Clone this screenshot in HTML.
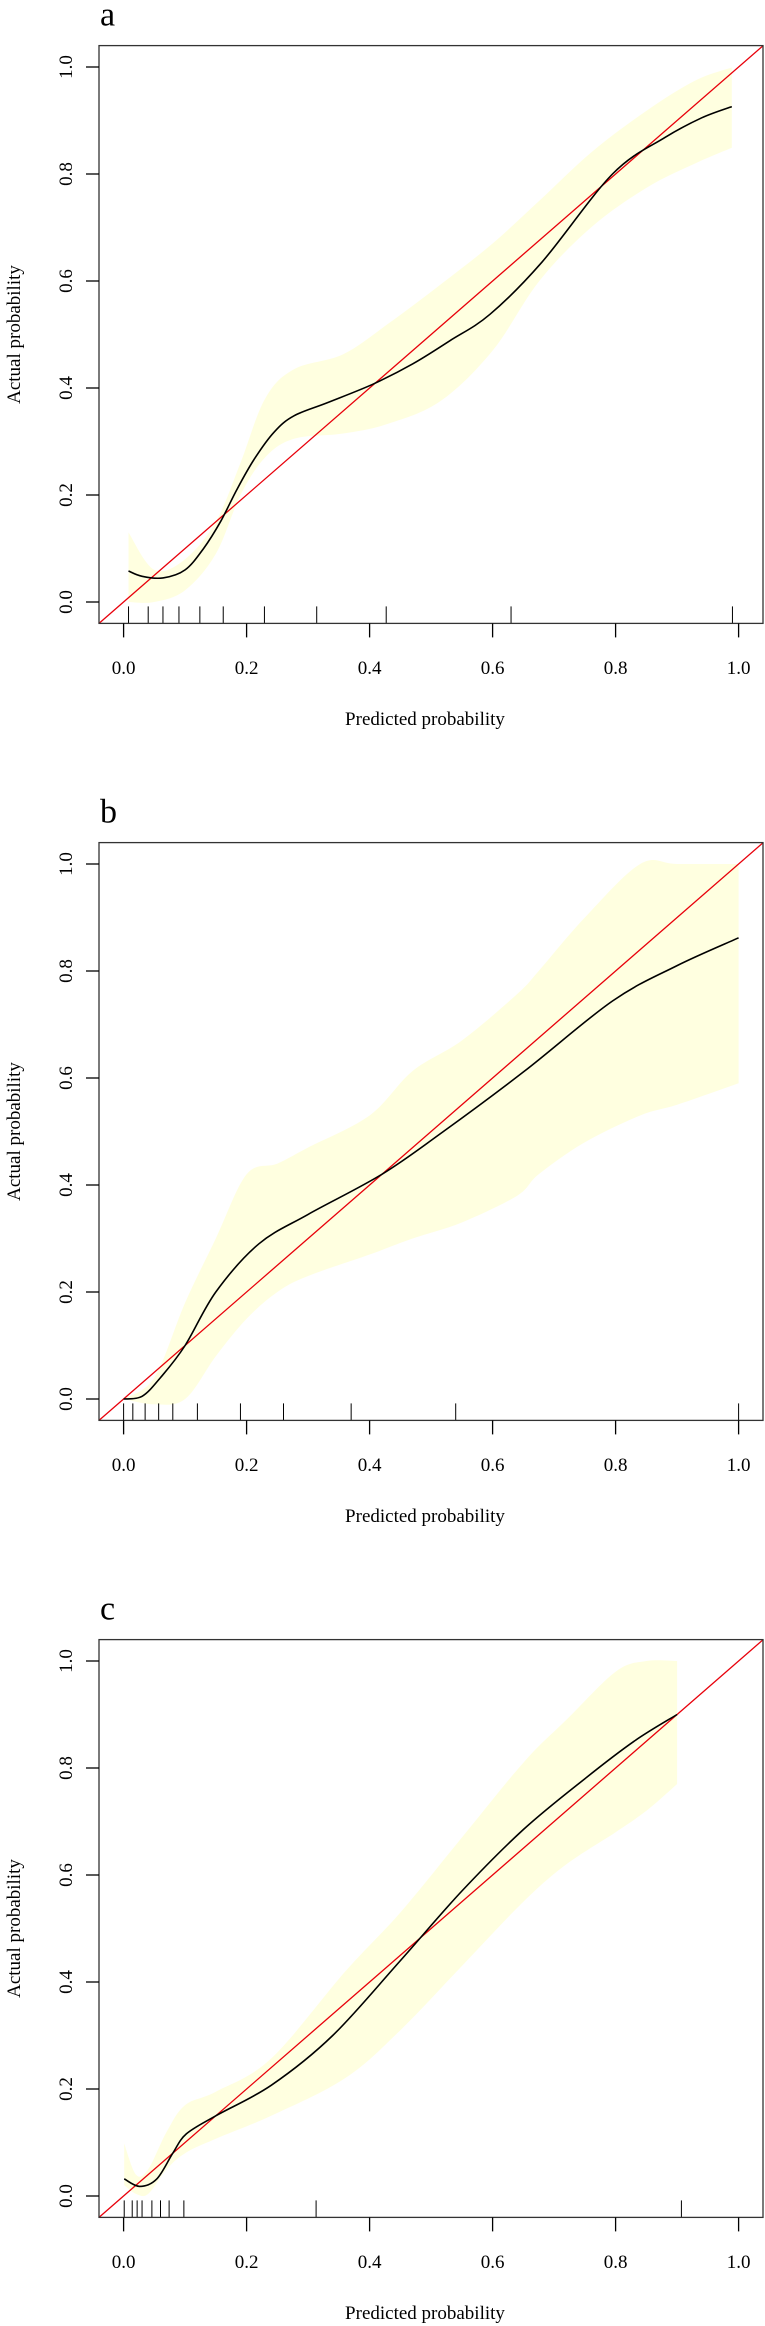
<!DOCTYPE html>
<html><head><meta charset="utf-8"><style>
body{margin:0;background:#fff}
svg{display:block}
text{font-family:"Liberation Serif",serif;fill:#000}
</style></head><body>
<svg id="chart" width="765" height="2326" viewBox="0 0 765 2326" xmlns="http://www.w3.org/2000/svg"></svg>
<script>
const panelLabels = ["a","b","c"];
const curveA_x = [0.008,0.03,0.064,0.1,0.13,0.158,0.185,0.213,0.245,0.277,0.33,0.405,0.47,0.53,0.596,0.68,0.795,0.88,0.94,0.989];
const curveA_y = [0.058,0.048,0.045,0.06,0.1,0.151,0.212,0.268,0.318,0.348,0.372,0.407,0.445,0.488,0.538,0.635,0.8,0.868,0.905,0.926];
const bandA_x = [0.008,0.05,0.1,0.15,0.19,0.23,0.277,0.357,0.43,0.516,0.6,0.676,0.76,0.85,0.93,0.989];
const bandA_up = [0.13,0.06,0.08,0.15,0.26,0.38,0.435,0.463,0.52,0.594,0.67,0.75,0.84,0.918,0.975,0.999];
const bandA_lo = [0.0,0.0,0.022,0.09,0.2,0.27,0.305,0.315,0.333,0.376,0.47,0.6,0.7,0.774,0.82,0.849];
const rugA = [0.008,0.04,0.064,0.09,0.124,0.162,0.229,0.314,0.427,0.63,0.99];

const curveB_x = [0.0,0.03,0.06,0.1,0.15,0.22,0.3,0.42,0.52,0.652,0.795,0.9,1.0];
const curveB_y = [0.0,0.005,0.04,0.1,0.2,0.29,0.345,0.42,0.5,0.613,0.744,0.81,0.862];
const bandB_x = [0.0,0.05,0.1,0.15,0.2,0.25,0.3,0.4,0.47,0.55,0.64,0.675,0.75,0.84,0.9,1.0];
const bandB_up = [0.0,0.04,0.18,0.3,0.42,0.44,0.47,0.53,0.613,0.67,0.757,0.8,0.9,1.0,1.0,1.0];
const bandB_lo = [0.0,-0.01,0.0,0.08,0.15,0.2,0.23,0.27,0.3,0.33,0.38,0.42,0.48,0.53,0.55,0.59];
const rugB = [0.0,0.015,0.035,0.057,0.08,0.12,0.19,0.26,0.37,0.54,1.0];

const curveC_x = [0.001,0.026,0.054,0.08,0.102,0.15,0.24,0.34,0.45,0.55,0.65,0.75,0.83,0.9];
const curveC_y = [0.032,0.018,0.032,0.08,0.116,0.15,0.207,0.3,0.44,0.57,0.685,0.78,0.85,0.9];
const bandC_x = [0.001,0.02,0.04,0.07,0.1,0.15,0.24,0.36,0.45,0.55,0.65,0.72,0.8,0.85,0.9];
const bandC_up = [0.098,0.04,0.05,0.12,0.17,0.195,0.257,0.419,0.53,0.67,0.81,0.89,0.98,1.0,1.0];
const bandC_lo = [0.02,0.004,0.004,0.05,0.08,0.107,0.15,0.22,0.31,0.43,0.55,0.62,0.68,0.72,0.77];
const rugC = [0.001,0.014,0.022,0.03,0.046,0.06,0.074,0.098,0.313,0.907];

const xTicks = ["0.0","0.2","0.4","0.6","0.8","1.0"];
const yTicks = ["0.0","0.2","0.4","0.6","0.8","1.0"];

const panels = [
 {cx:curveA_x,cy:curveA_y,bx:bandA_x,bu:bandA_up,bl:bandA_lo,rug:rugA},
 {cx:curveB_x,cy:curveB_y,bx:bandB_x,bu:bandB_up,bl:bandB_lo,rug:rugB},
 {cx:curveC_x,cy:curveC_y,bx:bandC_x,bu:bandC_up,bl:bandC_lo,rug:rugC}
];
const NS="http://www.w3.org/2000/svg";
const svg=document.getElementById('chart');
function mk(tag,attrs,parent){const e=document.createElementNS(NS,tag);for(const k in attrs)e.setAttribute(k,attrs[k]);(parent||svg).appendChild(e);return e;}
const L=99,R=763,XS=615,YS=535;
function smooth(pts){
  let d="M"+pts[0][0].toFixed(1)+","+pts[0][1].toFixed(1);
  for(let i=0;i<pts.length-1;i++){
    const p0=pts[Math.max(0,i-1)],p1=pts[i],p2=pts[i+1],p3=pts[Math.min(pts.length-1,i+2)];
    const c1=[p1[0]+(p2[0]-p0[0])/6,p1[1]+(p2[1]-p0[1])/6];
    const c2=[p2[0]-(p3[0]-p1[0])/6,p2[1]-(p3[1]-p1[1])/6];
    d+=" C"+c1[0].toFixed(1)+","+c1[1].toFixed(1)+" "+c2[0].toFixed(1)+","+c2[1].toFixed(1)+" "+p2[0].toFixed(1)+","+p2[1].toFixed(1);
  }
  return d;
}
panels.forEach((p,i)=>{
  const off=i*797;
  const y0=602+off;
  const sx=v=>L+(v+0.04)*XS;
  const sy=v=>y0-v*YS;
  const top=y0-1.04*YS, bot=y0+0.04*YS;
  const g=mk('g',{});
  
  
  const clipId='clip'+i;
  const cp=mk('clipPath',{id:clipId},g);
  mk('rect',{x:L,y:top,width:R-L,height:bot-top},cp);
  const up=p.bx.map((x,k)=>[sx(x),sy(p.bu[k])]);
  const lo=p.bx.map((x,k)=>[sx(x),sy(p.bl[k])]).reverse();
  const sl=smooth(lo);
  let d=smooth(up)+" L"+lo[0][0].toFixed(1)+","+lo[0][1].toFixed(1)+sl.slice(sl.indexOf(" C"))+" Z";
  const band=mk('path',{d:d,fill:'#FFFFE0',stroke:'none','clip-path':'url(#'+clipId+')'},g);
  
  
  const ideal=mk('line',{x1:sx(-0.04),y1:sy(-0.04),x2:sx(1.04),y2:sy(1.04),stroke:'#e8000b','stroke-width':1.3},g);
  
  
  const cpts=p.cx.map((x,k)=>[sx(x),sy(p.cy[k])]);
  const cur=mk('path',{d:smooth(cpts),fill:'none',stroke:'#000','stroke-width':1.6},g);
  
  
  p.rug.forEach(v=>{
    const r=mk('line',{x1:sx(v),x2:sx(v),y1:bot-17,y2:bot,stroke:'#000','stroke-width':1},g);
    
    
  });
  const box=mk('rect',{x:L,y:top,width:R-L,height:bot-top,fill:'none',stroke:'#333','stroke-width':1.3},g);
  
  
  xTicks.forEach((t,k)=>{
    const v=k*0.2;
    const tl=mk('line',{x1:sx(v),x2:sx(v),y1:bot,y2:bot+14,stroke:'#000','stroke-width':1.3},g);
    
    
    const tx=mk('text',{x:sx(v),y:y0+72,'font-size':19,'text-anchor':'middle'},g);
    tx.textContent=t;
    
    
  });
  yTicks.forEach((t,k)=>{
    const v=k*0.2;
    const tl=mk('line',{x1:L-13,x2:L,y1:sy(v),y2:sy(v),stroke:'#000','stroke-width':1.3},g);
    
    
    const tx=mk('text',{x:0,y:0,'font-size':19,'text-anchor':'middle',transform:'translate(72,'+sy(v).toFixed(1)+') rotate(-90)'},g);
    tx.textContent=t;
    
    
  });
  const xt=mk('text',{x:(L+R)/2-6,y:y0+123,'font-size':19,'text-anchor':'middle'},g);
  xt.textContent='Predicted probability';
  
  
  const yt=mk('text',{x:0,y:0,'font-size':19,'text-anchor':'middle',transform:'translate(20,'+((top+bot)/2).toFixed(1)+') rotate(-90)'},g);
  yt.textContent='Actual probability';
  
  
  const pl=mk('text',{x:100,y:top-20,'font-size':34},g);
  pl.textContent=panelLabels[i];
  
  
});
</script>
</body></html>
